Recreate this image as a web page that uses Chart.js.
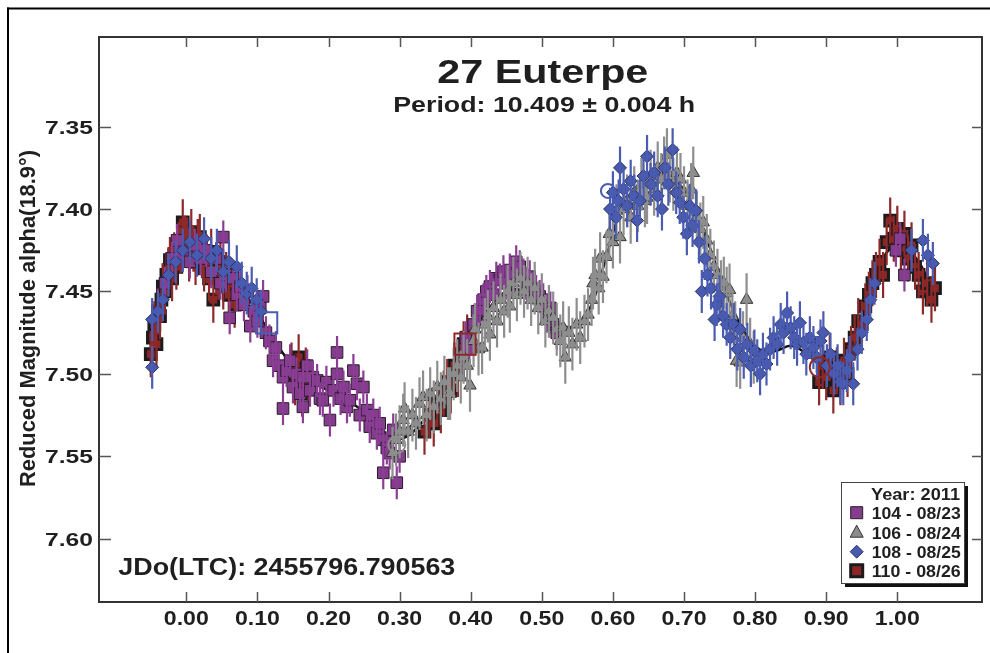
<!DOCTYPE html>
<html>
<head>
<meta charset="utf-8">
<script src="https://cdn.jsdelivr.net/npm/chart.js@4.4.1/dist/chart.umd.min.js"></script>
<style>
  html, body { margin: 0; padding: 0; background: #fff; }
  canvas { display: block; }
</style>
</head>
<body>
<canvas id="lc" width="990" height="653"></canvas>
<script>
// Axis ticks
const xTicks = [0.00, 0.10, 0.20, 0.30, 0.40, 0.50, 0.60, 0.70, 0.80, 0.90, 1.00];
const yTicks = [7.35, 7.40, 7.45, 7.50, 7.55, 7.60];

// Legend labels
const legendTitle = 'Year: 2011';
const sessionLabels = ['104 - 08/23', '106 - 08/24', '108 - 08/25', '110 - 08/26'];

// Session 104 (2011-08-23): [phase, reduced magnitude]
const s104 = [
  [-0.030,7.445],[-0.020,7.430],[-0.013,7.419],[-0.005,7.428],[0.005,7.432],[0.012,7.422],[0.020,7.430],
  [0.028,7.425],[0.035,7.438],[0.042,7.430],[0.048,7.445],[0.052,7.417],[0.056,7.440],[0.061,7.466],
  [0.066,7.442],[0.071,7.452],[0.076,7.447],[0.081,7.458],[0.086,7.450],[0.090,7.471],[0.095,7.462],
  [0.100,7.468],[0.104,7.460],[0.108,7.453],[0.112,7.475],[0.117,7.480],[0.122,7.492],[0.126,7.484],
  [0.130,7.495],[0.136,7.502],[0.136,7.521],[0.141,7.498],[0.146,7.492],[0.150,7.508],[0.155,7.500],
  [0.160,7.512],[0.164,7.502],[0.164,7.520],[0.170,7.495],[0.174,7.510],[0.178,7.502],[0.184,7.504],
  [0.188,7.515],[0.192,7.516],[0.197,7.505],[0.202,7.528],[0.207,7.510],[0.212,7.487],[0.212,7.500],
  [0.217,7.515],[0.221,7.508],[0.226,7.520],[0.230,7.516],[0.235,7.498],[0.240,7.506],[0.244,7.525],
  [0.249,7.508],[0.254,7.522],[0.258,7.532],[0.263,7.525],[0.268,7.536],[0.272,7.530],[0.277,7.540],
  [0.277,7.560],[0.282,7.545],[0.286,7.548],[0.291,7.534],[0.296,7.566],[0.300,7.550],
  [0.388,7.490],[0.393,7.478],[0.398,7.485],[0.404,7.470],[0.409,7.462],[0.413,7.461],[0.418,7.455],
  [0.422,7.450],[0.427,7.447],[0.432,7.452],[0.436,7.442],[0.441,7.443],[0.446,7.438],[0.450,7.445],
  [0.455,7.437],[0.460,7.440],[0.464,7.432],[0.469,7.435],[0.474,7.440],[0.478,7.445],[0.483,7.441],
  [0.488,7.448],[0.492,7.450],[0.497,7.453],[0.502,7.455],[0.507,7.465],[0.512,7.460],[0.516,7.470],
  [0.521,7.475],
  [0.998,7.425],[1.004,7.418],[1.010,7.440]
];

// Session 106 (2011-08-24)
const s106 = [
  [0.290,7.548],[0.295,7.540],[0.300,7.535],[0.305,7.528],[0.307,7.521],[0.312,7.535],[0.318,7.525],
  [0.323,7.530],[0.328,7.518],[0.333,7.514],[0.338,7.525],[0.343,7.512],[0.348,7.520],[0.353,7.508],
  [0.358,7.515],[0.363,7.505],[0.368,7.512],[0.371,7.512],[0.376,7.500],[0.381,7.495],[0.386,7.502],
  [0.390,7.490],[0.395,7.495],[0.399,7.507],[0.404,7.480],[0.406,7.473],[0.411,7.485],[0.416,7.484],
  [0.420,7.470],[0.424,7.465],[0.427,7.476],[0.432,7.460],[0.437,7.468],[0.442,7.455],[0.447,7.462],
  [0.452,7.450],[0.455,7.459],[0.460,7.445],[0.465,7.452],[0.470,7.442],[0.475,7.450],[0.480,7.445],
  [0.485,7.455],[0.490,7.448],[0.495,7.460],[0.500,7.455],[0.505,7.468],[0.510,7.462],[0.516,7.466],
  [0.521,7.473],[0.526,7.480],[0.530,7.472],[0.533,7.490],[0.538,7.475],[0.543,7.482],[0.549,7.470],
  [0.554,7.478],[0.560,7.468],[0.565,7.464],[0.570,7.455],[0.572,7.445],[0.575,7.440],[0.580,7.448],
  [0.582,7.430],[0.586,7.441],[0.591,7.429],[0.595,7.415],[0.600,7.420],[0.605,7.401],[0.610,7.417],
  [0.615,7.400],[0.620,7.395],[0.625,7.405],[0.630,7.390],[0.635,7.398],[0.640,7.385],[0.645,7.395],
  [0.648,7.393],[0.653,7.380],[0.658,7.388],[0.663,7.375],[0.668,7.382],[0.672,7.372],[0.676,7.367],
  [0.680,7.380],[0.685,7.385],[0.690,7.378],[0.695,7.382],[0.700,7.390],[0.705,7.398],[0.710,7.388],
  [0.713,7.378],[0.718,7.405],[0.723,7.412],[0.727,7.408],[0.732,7.419],[0.737,7.428],[0.742,7.435],
  [0.747,7.440],[0.752,7.447],[0.756,7.445],[0.760,7.451],[0.764,7.449],[0.768,7.465],[0.772,7.472],
  [0.774,7.492],[0.779,7.493],[0.783,7.478],[0.788,7.455],[0.793,7.482],[0.798,7.490]
];

// Session 108 (2011-08-25)
const s108 = [
  [-0.048,7.496],[-0.048,7.467],[-0.040,7.462],[-0.033,7.455],[-0.025,7.440],[-0.015,7.432],[-0.005,7.425],
  [0.005,7.420],[0.015,7.428],[0.025,7.418],[0.035,7.430],[0.043,7.425],[0.052,7.438],[0.060,7.432],
  [0.071,7.435],[0.078,7.445],[0.085,7.451],[0.092,7.448],[0.099,7.455],[0.105,7.462],
  [0.596,7.400],[0.600,7.390],[0.604,7.405],[0.608,7.395],[0.610,7.375],[0.615,7.388],[0.620,7.398],
  [0.625,7.383],[0.630,7.392],[0.634,7.407],[0.638,7.395],[0.643,7.380],[0.648,7.368],[0.653,7.385],
  [0.658,7.378],[0.663,7.392],[0.669,7.400],[0.673,7.375],[0.678,7.385],[0.684,7.364],[0.689,7.390],
  [0.694,7.396],[0.699,7.405],[0.704,7.415],[0.708,7.398],[0.712,7.410],[0.717,7.401],[0.721,7.420],
  [0.725,7.450],[0.729,7.430],[0.733,7.440],[0.738,7.448],[0.743,7.467],[0.746,7.458],[0.750,7.453],
  [0.755,7.465],[0.760,7.470],[0.765,7.478],[0.770,7.470],[0.775,7.485],[0.779,7.473],[0.784,7.490],
  [0.789,7.482],[0.794,7.495],[0.799,7.486],[0.803,7.492],[0.807,7.500],[0.811,7.488],[0.816,7.494],
  [0.821,7.485],[0.826,7.478],[0.831,7.482],[0.836,7.470],[0.840,7.475],[0.845,7.463],[0.850,7.472],
  [0.855,7.478],[0.859,7.482],[0.863,7.469],[0.868,7.481],[0.872,7.488],[0.877,7.478],[0.882,7.484],
  [0.887,7.490],[0.892,7.480],[0.896,7.475],[0.901,7.495],[0.906,7.488],[0.911,7.500],[0.916,7.495],
  [0.920,7.505],[0.924,7.506],[0.929,7.498],[0.933,7.490],[0.938,7.506],[0.944,7.485],[0.950,7.475],
  [0.957,7.467],[0.962,7.455],[0.968,7.445],[1.020,7.425],[1.036,7.419],[1.043,7.428],[1.050,7.433]
];

// Session 110 (2011-08-26)
const s110 = [
  [-0.050,7.488],[-0.047,7.478],[-0.045,7.470],[-0.042,7.482],[-0.040,7.462],[-0.037,7.465],[-0.035,7.455],
  [-0.033,7.447],[-0.030,7.450],[-0.028,7.440],[-0.025,7.437],[-0.023,7.431],[-0.020,7.442],[-0.017,7.428],
  [-0.014,7.435],[-0.011,7.422],[-0.008,7.425],[-0.005,7.408],[-0.002,7.418],[0.001,7.419],[0.004,7.430],
  [0.007,7.414],[0.010,7.424],[0.013,7.432],[0.016,7.420],[0.019,7.417],[0.022,7.428],[0.025,7.436],
  [0.029,7.431],[0.032,7.442],[0.035,7.426],[0.038,7.455],[0.042,7.438],[0.045,7.441],[0.048,7.432],
  [0.052,7.447],[0.056,7.440],[0.060,7.452],[0.064,7.445],[0.068,7.458],
  [0.148,7.495],[0.153,7.505],[0.158,7.490],[0.163,7.512],[0.168,7.498],[0.172,7.505],
  [0.335,7.535],[0.342,7.525],[0.348,7.530],[0.353,7.518],[0.358,7.522],[0.362,7.512],[0.367,7.505],
  [0.372,7.510],[0.377,7.495],[0.382,7.500],[0.386,7.488],[0.390,7.482],[0.395,7.478],
  [0.890,7.505],[0.895,7.495],[0.900,7.502],[0.905,7.490],[0.910,7.510],[0.915,7.498],[0.920,7.505],
  [0.925,7.492],[0.930,7.500],[0.935,7.485],[0.940,7.478],[0.945,7.468],[0.950,7.470],[0.955,7.459],
  [0.960,7.452],[0.965,7.445],[0.970,7.440],[0.975,7.432],[0.980,7.440],[0.985,7.420],[0.990,7.407],
  [0.995,7.418],[1.000,7.412],[1.005,7.425],[1.010,7.415],[1.015,7.430],[1.020,7.422],[1.025,7.435],
  [1.030,7.440],[1.036,7.450],[1.042,7.445],[1.048,7.455],[1.053,7.448]
];

// Highlighted session points (open markers)
const openPts = [[0.113,7.469],[0.296,7.543],[0.392,7.482],[0.593,7.389],[0.891,7.496]];

// Fourier fit of the composite lightcurve
const fitCurve = [
  [-0.05,7.485],[-0.03,7.452],[-0.01,7.432],[0.01,7.424],[0.03,7.428],[0.05,7.436],[0.07,7.445],
  [0.09,7.456],[0.11,7.470],[0.13,7.484],[0.15,7.495],[0.17,7.503],[0.19,7.508],[0.21,7.512],
  [0.23,7.517],[0.25,7.523],[0.27,7.531],[0.29,7.539],[0.31,7.538],[0.33,7.530],[0.35,7.520],
  [0.37,7.505],[0.39,7.487],[0.41,7.470],[0.43,7.458],[0.45,7.450],[0.47,7.449],[0.49,7.454],
  [0.51,7.463],[0.53,7.471],[0.55,7.470],[0.57,7.458],[0.59,7.430],[0.61,7.402],[0.63,7.388],
  [0.65,7.381],[0.67,7.378],[0.69,7.383],[0.71,7.396],[0.73,7.416],[0.75,7.440],[0.77,7.462],
  [0.79,7.478],[0.81,7.486],[0.83,7.486],[0.85,7.483],[0.87,7.487],[0.89,7.494],[0.91,7.497],
  [0.93,7.490],[0.95,7.468],[0.97,7.440],[0.99,7.424],[1.01,7.424],[1.03,7.432],[1.05,7.450]
];

// Styles
const FONT = '"Liberation Sans", Arial, Helvetica, sans-serif';
const TEXT = '#1f1f1f';
const C104 = { fill: '#843c8d', edge: '#2a1a2b', bar: '#8a3e94' };
const C106 = { fill: '#8c8c8c', edge: '#333333', bar: '#8e8e8e' };
const C108 = { fill: '#4959ad', edge: '#25336c', bar: '#4a5cb2' };
const C110 = { fill: '#8a2626', edge: '#1b1b1b', bar: '#8d2929' };
const openStyles = ['rect', 'circle', 'rect', 'circle', 'circle'];
const openRadii = [15, 8.5, 15, 7, 10];
const openColors = [C108.bar, C106.bar, C110.bar, C108.bar, C110.bar];

const toXY = arr => arr.map(([x, y]) => ({ x, y }));

// Text drawn at a set size and squeezed/stretched to a set width
function drawText(ctx, txt, x, y, size, width, align) {
  ctx.save();
  ctx.font = 'bold ' + size + 'px ' + FONT;
  const sx = width / ctx.measureText(txt).width;
  const left = align === 'center' ? x - width / 2 : align === 'right' ? x - width : x;
  ctx.translate(left, y);
  ctx.scale(sx, 1);
  ctx.textAlign = 'left';
  ctx.textBaseline = 'alphabetic';
  ctx.fillStyle = TEXT;
  ctx.fillText(txt, 0, 0);
  ctx.restore();
}

// Vertical error bars, drawn right after each dataset's markers
const errorBars = {
  id: 'errorBars',
  afterDatasetDraw(chart, args) {
    const ds = chart.data.datasets[args.index];
    if (!ds.errY) return;
    const { ctx, chartArea: a } = chart;
    const ys = chart.scales.y;
    ctx.save();
    ctx.beginPath();
    ctx.rect(a.left, a.top, a.right - a.left, a.bottom - a.top);
    ctx.clip();
    ctx.strokeStyle = ds.errColor;
    ctx.lineWidth = 2.2;
    ctx.beginPath();
    args.meta.data.forEach((el, i) => {
      const v = ds.data[i].y;
      ctx.moveTo(el.x, ys.getPixelForValue(v - ds.errY));
      ctx.lineTo(el.x, ys.getPixelForValue(v + ds.errY));
    });
    ctx.stroke();
    ctx.restore();
  }
};

function marker(ctx, kind, x, y, c) {
  ctx.save();
  ctx.beginPath();
  if (kind === 'square') {
    ctx.rect(x - 6, y - 6, 12, 12);
    ctx.fillStyle = c.fill; ctx.fill();
    ctx.lineWidth = 1; ctx.strokeStyle = c.edge; ctx.stroke();
  } else if (kind === 'heavy') {
    ctx.rect(x - 6, y - 6, 12, 12);
    ctx.fillStyle = c.fill; ctx.fill();
    ctx.lineWidth = 3; ctx.strokeStyle = c.edge; ctx.stroke();
  } else if (kind === 'triangle') {
    ctx.moveTo(x, y - 7); ctx.lineTo(x + 6.5, y + 5); ctx.lineTo(x - 6.5, y + 5); ctx.closePath();
    ctx.fillStyle = c.fill; ctx.fill();
    ctx.lineWidth = 1; ctx.strokeStyle = c.edge; ctx.stroke();
  } else {
    ctx.moveTo(x, y - 6.5); ctx.lineTo(x + 6.5, y); ctx.lineTo(x, y + 6.5); ctx.lineTo(x - 6.5, y); ctx.closePath();
    ctx.fillStyle = c.fill; ctx.fill();
    ctx.lineWidth = 1; ctx.strokeStyle = c.edge; ctx.stroke();
  }
  ctx.restore();
}

// Page frame, plot box, inside ticks, labels, annotations and legend
const decorations = {
  id: 'decorations',
  beforeDraw(chart) {
    const ctx = chart.ctx;
    ctx.save();
    ctx.fillStyle = '#fff';
    ctx.fillRect(0, 0, chart.width, chart.height);
    ctx.restore();
  },
  afterDraw(chart) {
    const { ctx, chartArea: a } = chart;
    const xs = chart.scales.x, ys = chart.scales.y;
    ctx.save();

    // outer frame
    ctx.fillStyle = '#000';
    ctx.fillRect(7, 7.5, chart.width - 7, 2);
    ctx.fillRect(7, 7.5, 2, chart.height - 7.5);

    // plot box
    ctx.strokeStyle = '#333';
    ctx.lineWidth = 2;
    ctx.strokeRect(a.left, a.top, a.right - a.left, a.bottom - a.top);

    // tick marks pointing inward on all four sides
    ctx.strokeStyle = '#555';
    ctx.lineWidth = 1.5;
    ctx.beginPath();
    xTicks.forEach(v => {
      const px = Math.round(xs.getPixelForValue(v)) + 0.5;
      ctx.moveTo(px, a.bottom); ctx.lineTo(px, a.bottom - 10);
      ctx.moveTo(px, a.top); ctx.lineTo(px, a.top + 10);
    });
    yTicks.forEach(v => {
      const py = Math.round(ys.getPixelForValue(v)) + 0.5;
      ctx.moveTo(a.left, py); ctx.lineTo(a.left + 12, py);
      ctx.moveTo(a.right, py); ctx.lineTo(a.right - 10, py);
    });
    ctx.stroke();

    // tick labels
    xTicks.forEach(v => drawText(ctx, v.toFixed(2), xs.getPixelForValue(v), 625, 20, 45, 'center'));
    yTicks.forEach(v => drawText(ctx, v.toFixed(2), 93, ys.getPixelForValue(v) + 7, 18.5, 48, 'right'));

    // axis title
    ctx.save();
    ctx.translate(35, 318.5);
    ctx.rotate(-Math.PI / 2);
    drawText(ctx, 'Reduced Magnitude alpha(18.9°)', 0, 0, 22, 337, 'center');
    ctx.restore();

    // heading and annotation
    drawText(ctx, '27 Euterpe', 542.8, 83.3, 33, 211, 'center');
    drawText(ctx, 'Period: 10.409 ± 0.004 h', 544.2, 111.7, 22, 302, 'center');
    drawText(ctx, 'JDo(LTC): 2455796.790563', 118.3, 575, 24, 337, 'left');

    // legend box with drop shadow
    const L = { x: 841, y: 482, w: 123, h: 101 };
    ctx.fillStyle = '#111';
    ctx.fillRect(L.x + 4, L.y + 4, L.w, L.h);
    ctx.fillStyle = '#fff';
    ctx.fillRect(L.x, L.y, L.w, L.h);
    ctx.strokeStyle = '#444';
    ctx.lineWidth = 1;
    ctx.strokeRect(L.x + 0.5, L.y + 0.5, L.w, L.h);
    drawText(ctx, legendTitle, 960, 500, 17, 89, 'right');
    const rows = [519, 538.5, 558, 577];
    const kinds = ['square', 'triangle', 'diamond', 'heavy'];
    const cols = [C104, C106, C108, C110];
    rows.forEach((by, i) => {
      marker(ctx, kinds[i], 856.7, by - 6.3, cols[i]);
      drawText(ctx, sessionLabels[i], 871.7, by, 16.5, 89, 'left');
    });

    ctx.restore();
  }
};

const X_MIN = -0.1228, X_MAX = 1.1191;
const Y_MIN = 7.2956, Y_MAX = 7.6384;

new Chart(document.getElementById('lc').getContext('2d'), {
  type: 'scatter',
  data: {
    datasets: [
      {
        label: 'start/end', data: toXY(openPts), order: 0,
        pointStyle: openStyles, pointRadius: openRadii, pointBorderColor: openColors,
        pointBackgroundColor: 'rgba(0,0,0,0)', pointBorderWidth: 2
      },
      {
        label: sessionLabels[2], data: toXY(s108), order: 1,
        pointStyle: 'rectRot', pointRadius: 6.5,
        pointBackgroundColor: C108.fill, pointBorderColor: C108.edge, pointBorderWidth: 1,
        errY: 0.013, errColor: C108.bar
      },
      {
        label: sessionLabels[1], data: toXY(s106), order: 2,
        pointStyle: 'triangle', pointRadius: 7.2,
        pointBackgroundColor: C106.fill, pointBorderColor: C106.edge, pointBorderWidth: 1,
        errY: 0.016, errColor: C106.bar
      },
      {
        label: sessionLabels[0], data: toXY(s104), order: 3,
        pointStyle: 'rect', pointRadius: 8.2,
        pointBackgroundColor: C104.fill, pointBorderColor: C104.edge, pointBorderWidth: 1,
        errY: 0.010, errColor: C104.bar
      },
      {
        label: sessionLabels[3], data: toXY(s110), order: 4,
        pointStyle: 'rect', pointRadius: 7.6,
        pointBackgroundColor: C110.fill, pointBorderColor: C110.edge, pointBorderWidth: 3,
        errY: 0.014, errColor: C110.bar
      },
      {
        label: 'fit', data: toXY(fitCurve), order: 5,
        showLine: true, borderColor: '#111', borderWidth: 2.5, tension: 0.4,
        pointRadius: 0
      }
    ]
  },
  options: {
    responsive: false,
    devicePixelRatio: 1,
    animation: false,
    layout: { autoPadding: false, padding: { top: 37, right: 8, left: 0, bottom: 0 } },
    plugins: { legend: { display: false }, tooltip: { enabled: false }, title: { display: false } },
    scales: {
      x: {
        type: 'linear', min: X_MIN, max: X_MAX,
        grid: { display: false }, border: { display: false },
        ticks: { display: false },
        afterBuildTicks: s => { s.ticks = xTicks.map(v => ({ value: v })); },
        afterFit: s => { s.height = 51; }
      },
      y: {
        type: 'linear', reverse: true, min: Y_MIN, max: Y_MAX,
        grid: { display: false }, border: { display: false },
        ticks: { display: false },
        afterBuildTicks: s => { s.ticks = yTicks.map(v => ({ value: v })); },
        afterFit: s => { s.width = 99; }
      }
    }
  },
  plugins: [errorBars, decorations]
});
</script>
</body>
</html>
